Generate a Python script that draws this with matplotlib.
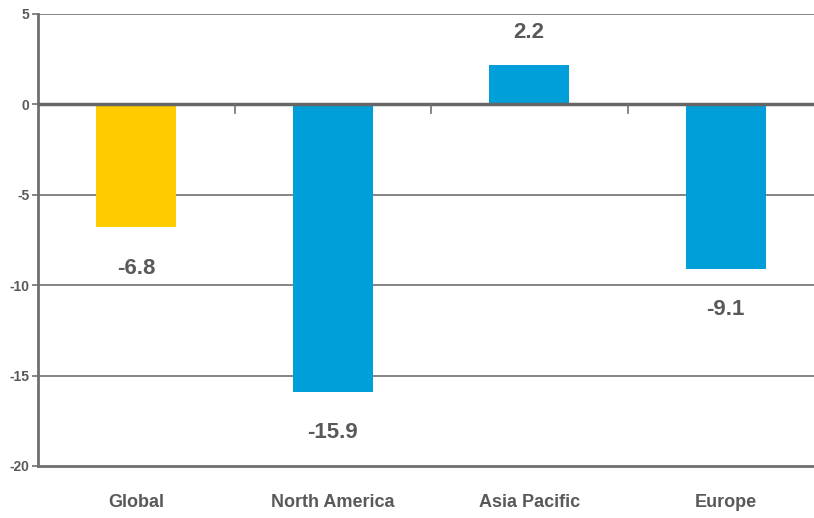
import matplotlib.pyplot as plt
from matplotlib import font_manager

categories = ["Global", "North America", "Asia Pacific", "Europe"]
values = [-6.8, -15.9, 2.2, -9.1]
bar_colors = ["#FFCC00", "#009FDA", "#009FDA", "#009FDA"]
yticks = [5, 0, -5, -10, -15, -20]

names = {f.name for f in font_manager.fontManager.ttflist}
family = "Liberation Sans Narrow" if "Liberation Sans Narrow" in names else "Liberation Sans"
plt.rcParams["font.family"] = [family, "DejaVu Sans"]
plt.rcParams["font.weight"] = "bold"

text_color = "#595959"
line_color = "#6f6f6f"

fig = plt.figure(figsize=(8.14, 5.18), dpi=100)
# the plot area runs a little past the right edge of the picture
ax = fig.add_axes([38 / 814, 0.1004, 786 / 814, 0.8726])

x = list(range(len(categories)))
ax.bar(x, values, width=0.407, color=bar_colors, zorder=2)

ax.set_xlim(-0.5, len(categories) - 0.5)
ax.set_ylim(-20, 5)
ax.set_yticks(yticks)
ax.set_yticklabels([str(v) for v in yticks], fontsize=10, color=text_color)

for y in [5, -5, -10, -15]:
    ax.axhline(y, color=line_color, lw=1.2, zorder=1)
ax.axhline(0, color="#666666", lw=2.5, zorder=3)

# category boundary ticks on the zero line
for b in [0.5, 1.5, 2.5]:
    ax.plot([b, b], [0, -0.5], color=line_color, lw=1.2, zorder=3)

ax.set_xticks(x)
ax.set_xticklabels(categories, fontsize=13, color=text_color)
ax.tick_params(axis="x", length=0, pad=20)
ax.tick_params(axis="y", length=4, width=1.2, color=line_color, pad=2)

for s in ["top", "right"]:
    ax.spines[s].set_visible(False)
ax.spines["left"].set_color(line_color)
ax.spines["left"].set_linewidth(2)
ax.spines["bottom"].set_color(line_color)
ax.spines["bottom"].set_linewidth(2)

for xi, v in zip(x, values):
    ypos = v - 2.25 if v < 0 else v + 1.75
    ax.text(xi, ypos, f"{v:.1f}", ha="center", va="center",
            fontsize=16, color=text_color, fontweight="bold")

fig.savefig("out.png", dpi=100)
